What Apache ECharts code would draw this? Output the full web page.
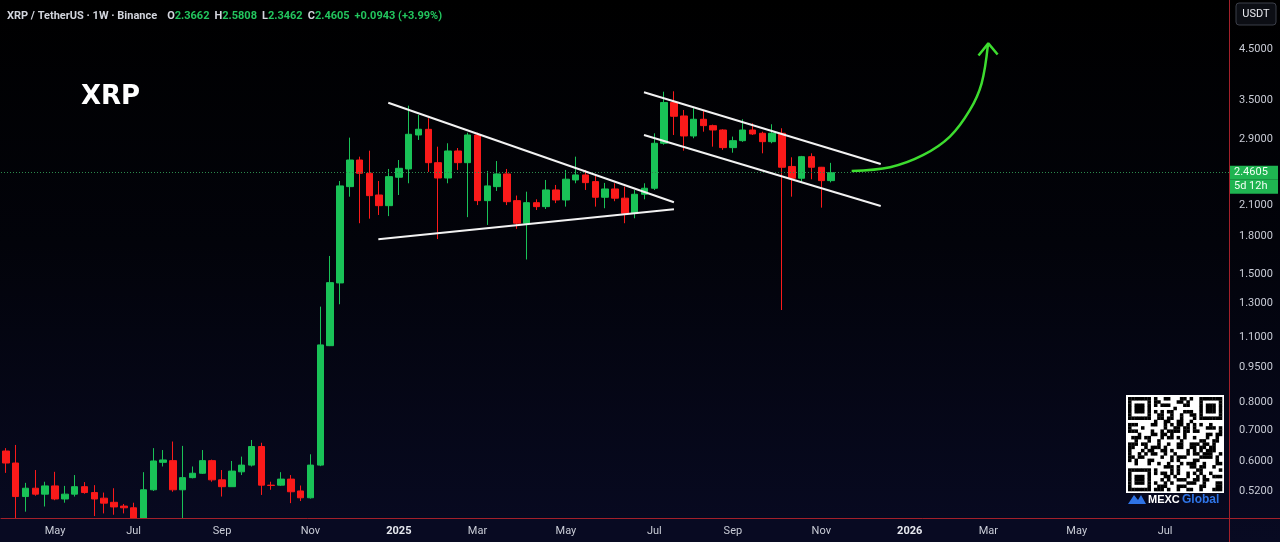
<!DOCTYPE html>
<html><head><meta charset="utf-8">
<script src="https://cdn.jsdelivr.net/npm/echarts@6/dist/echarts.min.js"></script>
<style>html,body{margin:0;padding:0;background:#000;}#c{width:1280px;height:542px;}</style>
</head><body><div id="c"></div>
<script>
// ---------- data ----------
const firstWeek = '2024-04-01';   // Monday of first weekly candle
const weekCount = 125;            // weekly slots on the time axis (incl. empty future)
const openP  = [0.632,0.596,0.506,0.527,0.512,0.533,0.500,0.512,0.531,0.516,0.502,0.492,0.483,0.479,0.435,0.523,0.598,0.603,0.523,0.555,0.567,0.603,0.549,0.531,0.571,0.590,0.646,0.535,0.535,0.551,0.520,0.503,0.590,1.057,1.436,2.298,2.617,2.453,2.206,2.094,2.406,2.505,2.957,3.040,2.583,2.397,2.735,2.583,2.957,2.146,2.298,2.445,2.146,1.922,2.125,2.084,2.261,2.153,2.374,2.433,2.355,2.182,2.272,2.172,2.017,2.214,2.280,2.840,3.466,3.245,2.943,3.193,3.095,3.030,2.780,2.876,3.030,2.982,2.862,2.982,2.536,2.394,2.660,2.526,2.3662];
const highP  = [0.641,0.651,0.541,0.576,0.544,0.571,0.533,0.562,0.543,0.535,0.516,0.527,0.488,0.491,0.570,0.641,0.635,0.662,0.648,0.586,0.635,0.606,0.576,0.602,0.615,0.667,0.658,0.544,0.570,0.562,0.534,0.622,1.279,1.638,2.362,2.919,2.660,2.739,2.362,2.505,2.617,3.412,3.261,3.209,2.793,2.840,2.775,2.990,2.990,2.481,2.604,2.505,2.200,2.242,2.160,2.374,2.317,2.493,2.660,2.493,2.430,2.340,2.336,2.298,2.260,2.336,2.981,3.653,3.660,3.341,3.370,3.341,3.110,3.040,2.934,3.193,3.131,3.005,3.116,3.056,2.652,2.670,2.704,2.530,2.5808];
const lowP   = [0.568,0.420,0.470,0.508,0.482,0.497,0.491,0.506,0.513,0.460,0.466,0.463,0.466,0.380,0.420,0.520,0.586,0.518,0.430,0.553,0.565,0.544,0.506,0.531,0.562,0.586,0.510,0.523,0.533,0.490,0.495,0.501,0.587,1.055,1.294,2.188,1.922,1.965,2.001,1.990,2.206,2.336,2.886,2.469,1.779,2.336,2.493,1.980,2.100,1.906,2.250,2.100,1.870,1.610,2.050,2.060,2.120,2.084,2.336,2.261,2.084,2.068,2.140,1.922,1.969,2.160,2.260,2.820,2.957,2.739,2.910,3.005,2.793,2.750,2.712,2.860,2.957,2.704,2.840,1.258,2.188,2.355,2.382,2.074,2.3462];
const closeP = [0.596,0.506,0.527,0.512,0.533,0.500,0.512,0.531,0.516,0.500,0.490,0.481,0.479,0.435,0.523,0.602,0.605,0.523,0.555,0.567,0.603,0.549,0.531,0.573,0.590,0.646,0.535,0.534,0.551,0.518,0.503,0.590,1.061,1.438,2.306,2.617,2.453,2.199,2.094,2.413,2.513,2.967,3.041,2.583,2.397,2.735,2.583,2.957,2.146,2.306,2.445,2.135,1.922,2.125,2.084,2.261,2.153,2.383,2.433,2.343,2.182,2.272,2.172,2.017,2.214,2.280,2.840,3.466,3.240,2.943,3.193,3.095,3.030,2.780,2.876,3.030,2.972,2.862,2.982,2.526,2.394,2.660,2.526,2.3662,2.4605];
const priceTicks = [0.52,0.6,0.7,0.8,0.95,1.1,1.3,1.5,1.8,2.1,2.9,3.5,4.5];
const monthNames = ['Jan','Feb','Mar','Apr','May','Jun','Jul','Aug','Sep','Oct','Nov','Dec'];
const timeLeft = '5d 12h';
// drawn trend lines [weekIndex, price]
const triangleUpper = [[38.92,3.462],[68.0,2.129]];
const triangleLower = [[37.91,1.777],[68.0,2.058]];
const channelUpper  = [[64.95,3.642],[89.05,2.567]];
const channelLower  = [[64.95,2.957],[89.05,2.091]];
const arrowCurve = [[86.09,2.481],[90.0,2.526],[93.39,2.682],[96.09,2.933],[98.13,3.341],[99.32,3.806],[99.96,4.589]];
const arrowHead  = [[99.0,4.360],[100.0,4.625],[100.95,4.380]];

// ---------- build ----------
const weeks = [];
{
  const d0 = new Date(firstWeek + 'T00:00:00Z');
  for (let i = 0; i < weekCount; i++) {
    const d = new Date(d0.getTime() + i * 7 * 86400000);
    weeks.push(d.toISOString().slice(0, 10));
  }
}
const candles = openP.map((o, i) => [o, closeP[i], lowP[i], highP[i]]);
const last = candles.length - 1;
const lastO = openP[last], lastH = highP[last], lastL = lowP[last], lastC = closeP[last];
const prevC = closeP[last - 1];
const chg = lastC - prevC;
const chgPct = chg / prevC * 100;

const UP = '#19c257', DOWN = '#fa1a1a', AXIS_RED = '#a3202a', TXT = '#c9ccd6';
const BOTTOM_BG = '#080a22';

function isLabelWeek(idx, val) {
  const d = new Date(val + 'T00:00:00Z');
  const m = d.getUTCMonth();
  return d.getUTCDate() <= 7 && m % 2 === 0;
}

// QR-like decorative code
const qrGroup = [];
{
  const N = 29, x0 = 1128, y0 = 397, s = 94 / N;
  qrGroup.push({type:'rect', shape:{x:x0-2,y:y0-2,width:N*s+4,height:N*s+4}, style:{fill:'#ffffff'}});
  const finder = (r, c) => {
    const inF = (fr, fc) => r >= fr && r < fr + 7 && c >= fc && c < fc + 7;
    for (const [fr, fc] of [[0,0],[0,N-7],[N-7,0]]) {
      if (inF(fr, fc)) {
        const rr = r - fr, cc = c - fc;
        if (rr === 0 || rr === 6 || cc === 0 || cc === 6) return 1;
        if (rr >= 2 && rr <= 4 && cc >= 2 && cc <= 4) return 1;
        return 0;
      }
      if (r >= fr - 1 && r <= fr + 7 && c >= fc - 1 && c <= fc + 7) return 0;
    }
    return -1;
  };
  for (let r = 0; r < N; r++) for (let c = 0; c < N; c++) {
    let f = finder(r, c);
    if (f === -1) f = (((r * 7 + c * 11 + r * c * 3) ^ (r + 2 * c)) % 3 === 0 || (r * 5 + c * 3) % 7 === 1) ? 1 : 0;
    if (f) qrGroup.push({type:'rect', shape:{x:x0 + c*s, y:y0 + r*s, width:s+0.3, height:s+0.3}, style:{fill:'#000'}});
  }
}

const chart = echarts.init(document.getElementById('c'), null, {renderer:'canvas'});
const lineSeries = (data, color, width) => ({
  type:'line', xAxisIndex:1, yAxisIndex:0, data, symbol:'none', silent:true,
  lineStyle:{color, width}, z:5, animation:false
});
const FONT = 'Roboto';

chart.setOption({
  animation:false,
  backgroundColor:{type:'linear', x:0, y:0, x2:0, y2:1, colorStops:[{offset:0,color:'#000000'},{offset:0.45,color:'#02030a'},{offset:1,color:BOTTOM_BG}]},
  title:{
    left:7, top:7, padding:0,
    text:'{t|XRP / TetherUS · 1W · Binance}  {k|O}{v|' + lastO.toFixed(4) + '} {k|H}{v|' + lastH.toFixed(4) + '} {k|L}{v|' + lastL.toFixed(4) + '} {k|C}{v|' + lastC.toFixed(4) + '} {v|+' + chg.toFixed(4) + ' (+' + chgPct.toFixed(2) + '%)}',
    textStyle:{rich:{
      t:{color:'#d2d5dd', fontSize:11, fontFamily:FONT},
      k:{color:'#d2d5dd', fontSize:11, fontFamily:FONT},
      v:{color:'#22c55e', fontSize:11, fontFamily:FONT}
    }}
  },
  grid:{left:1, right:51, top:0, bottom:24},
  xAxis:[{
    type:'category', data:weeks, boundaryGap:true, z:10,
    axisLine:{show:true, onZero:false, lineStyle:{color:AXIS_RED, width:1}},
    axisTick:{show:false},
    splitLine:{show:false},
    axisLabel:{
      interval:isLabelWeek, color:TXT, fontSize:11, margin:8, fontFamily:FONT,
      formatter:(val) => {
        const d = new Date(val + 'T00:00:00Z');
        const m = d.getUTCMonth();
        return m === 0 ? '{y|' + d.getUTCFullYear() + '}' : monthNames[m];
      },
      rich:{y:{color:'#e6e8ee', fontWeight:'bold', fontSize:11, fontFamily:FONT}}
    }
  },{
    type:'value', min:-0.5, max:weekCount - 0.5, show:false
  }],
  yAxis:[{
    type:'log', position:'right', min:0.4557, max:5.716, logBase:10, z:10,
    axisLine:{show:true, onZero:false, lineStyle:{color:AXIS_RED, width:1}},
    axisTick:{show:false},
    splitLine:{show:false},
    axisLabel:{color:TXT, fontSize:11, margin:10, fontFamily:FONT, customValues:priceTicks,
      formatter:(v) => Number(v).toFixed(4)}
  }],
  series:[
    {
      type:'candlestick', data:candles, xAxisIndex:0, yAxisIndex:0, clip:true,
      barWidth:7,
      itemStyle:{color:UP, color0:DOWN, borderColor:UP, borderColor0:DOWN, borderWidth:1},
      markLine:{
        silent:true, symbol:['none','none'],
        lineStyle:{color:'#2c8a4c', type:[1,2], width:1},
        label:{show:true, position:'end', distance:1, padding:0,
          formatter:'{h| }\n{p|' + lastC.toFixed(4) + '}\n{s|' + timeLeft + '}',
          rich:{
            h:{lineHeight:14, fontSize:11, color:'transparent'},
            p:{lineHeight:14, height:14, width:40, padding:[0,4], fontSize:11, fontFamily:FONT, color:'#f2fff4', backgroundColor:'#1fb451'},
            s:{lineHeight:14, height:14, width:40, padding:[0,4], fontSize:11, fontFamily:FONT, color:'#f2fff4', backgroundColor:'#1fb451'}
          }},
        data:[{yAxis:lastC}]
      }
    },
    lineSeries(triangleUpper, '#f2f2f2', 2),
    lineSeries(triangleLower, '#f2f2f2', 2),
    lineSeries(channelUpper, '#f2f2f2', 2),
    lineSeries(channelLower, '#f2f2f2', 2),
    Object.assign(lineSeries(arrowCurve, '#3ddc2f', 2.5), {smooth:0.35}),
    lineSeries(arrowHead, '#3ddc2f', 2.5)
  ],
  graphic:[
    // mask for wicks that run below the plot bottom
    {type:'rect', z:8, shape:{x:0, y:519, width:1229, height:23}, style:{fill:BOTTOM_BG}},
    {type:'text', z:9, x:81, y:97, style:{text:'XRP', fill:'#ffffff', font:'bold 26px "DejaVu Sans"', textVerticalAlign:'middle'}},
    {type:'rect', z:9, shape:{x:1236, y:3, width:40, height:22, r:3}, style:{fill:'#0c0e14', stroke:'#3b3e48', lineWidth:1}},
    {type:'text', z:9, x:1256, y:14, style:{text:'USDT', fill:'#e8e9ee', font:'11px "Roboto"', textAlign:'center', textVerticalAlign:'middle'}},
    {type:'line', z:9, shape:{x1:1229, y1:518.5, x2:1280, y2:518.5}, style:{stroke:AXIS_RED, lineWidth:1}},
    {type:'line', z:9, shape:{x1:1229.5, y1:518, x2:1229.5, y2:542}, style:{stroke:AXIS_RED, lineWidth:1}},
    {type:'group', z:9, children:qrGroup},
    {type:'polygon', z:9, shape:{points:[[1128,504],[1134,495],[1138,500],[1141,495],[1146,504]]}, style:{fill:'#2f74e6'}},
    {type:'text', z:9, x:1148, y:500, style:{text:'MEXC', fill:'#ffffff', font:'bold 11px "Liberation Sans"', textVerticalAlign:'middle'}},
    {type:'text', z:9, x:1182, y:500, style:{text:'Global', fill:'#2f74e6', font:'bold 12px "Liberation Sans"', textVerticalAlign:'middle'}}
  ]
});
</script></body></html>
